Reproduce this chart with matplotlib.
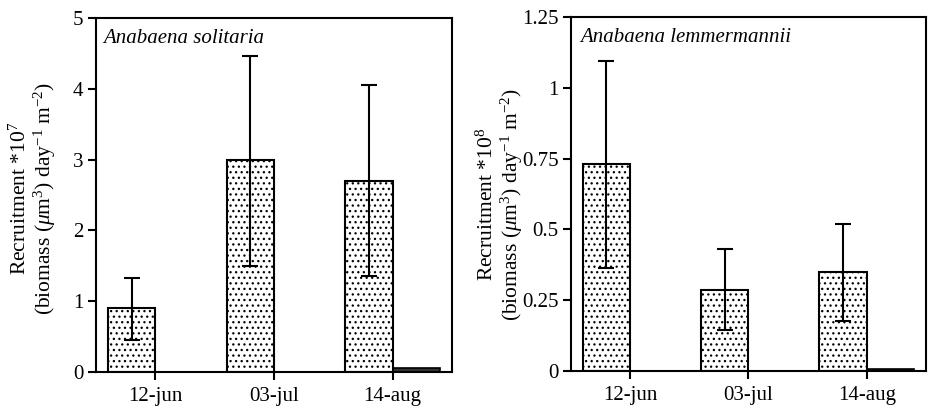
import numpy as np
import matplotlib
matplotlib.use("Agg")
import matplotlib.pyplot as plt

plt.rcParams['font.family'] = ['Liberation Serif', 'DejaVu Serif']
plt.rcParams['mathtext.fontset'] = 'custom'
plt.rcParams['mathtext.rm'] = 'Liberation Serif'
plt.rcParams['mathtext.it'] = 'Liberation Serif:italic'
plt.rcParams['mathtext.bf'] = 'Liberation Serif:bold'
plt.rcParams['hatch.linewidth'] = 0.9

categories = ['12-jun', '03-jul', '14-aug']

# Left panel: Anabaena solitaria (x 10^7)
sol_main = [0.90, 3.00, 2.70]
sol_err_lo = [0.45, 1.50, 1.35]
sol_err_hi = [0.43, 1.47, 1.35]
sol_second = [0.0, 0.0, 0.05]

# Right panel: Anabaena lemmermannii (x 10^8)
lem_main = [0.73, 0.285, 0.35]
lem_err_lo = [0.365, 0.14, 0.175]
lem_err_hi = [0.365, 0.145, 0.17]
lem_second = [0.0, 0.0, 0.006]

sol_ticks = [0, 1, 2, 3, 4, 5]
sol_ticklabels = ['0', '1', '2', '3', '4', '5']
lem_ticks = [0, 0.25, 0.5, 0.75, 1.0, 1.25]
lem_ticklabels = ['0', '0.25', '0.5', '0.75', '1', '1.25']

W, H = 929, 408
fig = plt.figure(figsize=(W / 100, H / 100), dpi=100)
ax1 = fig.add_axes([96 / W, (H - 372) / H, 356 / W, 354 / H])
ax2 = fig.add_axes([571 / W, (H - 371) / H, 355 / W, 354 / H])


def panel(ax, main, lo, hi, second, ticks, ticklabels, ymax, title, ylabel, lx, ly, tx):
    x = np.arange(len(categories))
    bw = 0.40
    ax.bar(x - bw / 2, main, width=bw, color='white', edgecolor='black',
           linewidth=1.5, hatch='...', zorder=2)
    ax.bar(x + bw / 2, second, width=bw, color='#333333', edgecolor='black',
           linewidth=1.2, zorder=2)
    ax.errorbar(x - bw / 2, main, yerr=[lo, hi], fmt='none', ecolor='black',
                elinewidth=1.5, capsize=6, capthick=1.5, zorder=3)
    ax.set_xlim(-0.5, 2.5)
    ax.set_ylim(0, ymax)
    ax.set_xticks(x)
    ax.set_xticklabels(categories, fontsize=15)
    ax.set_yticks(ticks)
    ax.set_yticklabels(ticklabels, fontsize=15)
    ax.tick_params(axis='both', direction='out', length=6, width=1.5, pad=3)
    ax.tick_params(axis='x', pad=5)
    for s in ax.spines.values():
        s.set_linewidth(1.5)
    ax.text(tx, 0.968, title, transform=ax.transAxes, fontsize=15,
            style='italic', va='top', ha='left')
    ax.set_ylabel(ylabel, fontsize=15.5, va='center', ha='center',
                  multialignment='center', linespacing=1.05)
    ax.yaxis.set_label_coords(lx, ly)


panel(ax1, sol_main, sol_err_lo, sol_err_hi, sol_second, sol_ticks, sol_ticklabels,
      5, 'Anabaena solitaria',
      'Recruitment *10$^7$\n(biomass ($\\mu$m$^3$) day$^{-1}$ m$^{-2}$)',
      -0.174, 0.49, 0.02)
panel(ax2, lem_main, lem_err_lo, lem_err_hi, lem_second, lem_ticks, lem_ticklabels,
      1.25, 'Anabaena lemmermannii',
      'Recruitment *10$^8$\n(biomass ($\\mu$m$^3$) day$^{-1}$ m$^{-2}$)',
      -0.197, 0.47, 0.025)

fig.savefig('out.png', dpi=100)
